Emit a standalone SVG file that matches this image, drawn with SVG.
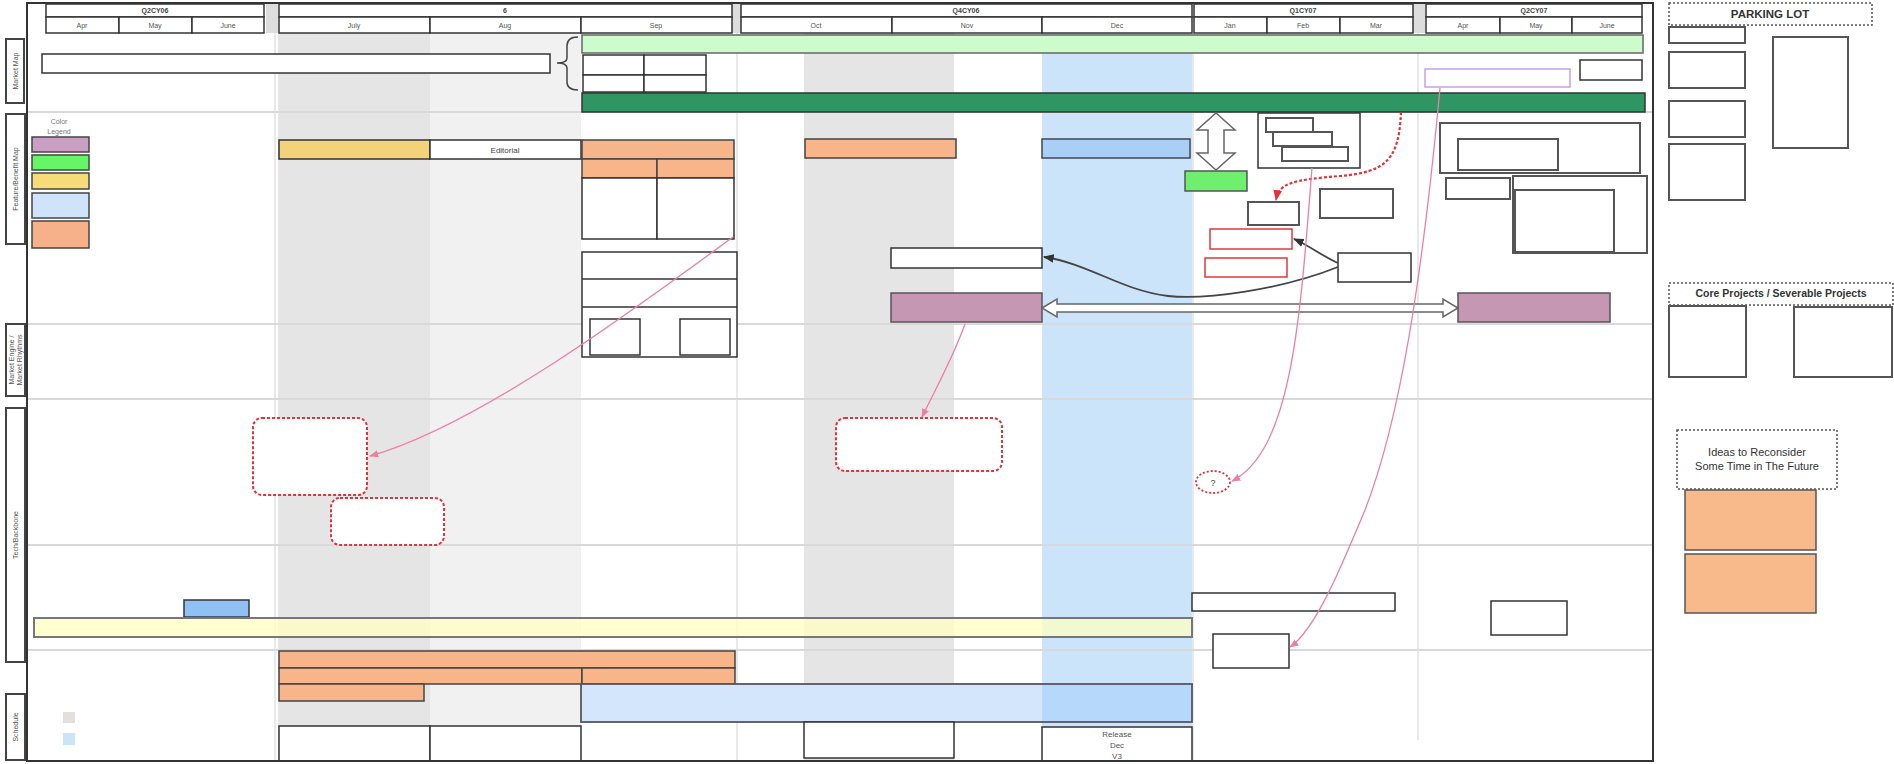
<svg xmlns="http://www.w3.org/2000/svg" width="1894" height="764" viewBox="0 0 1894 764">
<style>
text{font-family:"Liberation Sans",Arial,sans-serif;}
.t{font-size:7px;fill:#555;}
.q{font-size:7px;fill:#444;font-weight:bold;}
.hb{fill:#fff;stroke:#333;stroke-width:1.5;}
.box{fill:#fff;stroke:#333;stroke-width:1.5;}
.gbox{fill:#fff;stroke:#555;stroke-width:2;}
.lane{stroke:#d9d9d9;stroke-width:2;}
.vl{stroke:#e2e2e2;stroke-width:1.5;}
.lbl{fill:#fff;stroke:#444;stroke-width:2;}
.org{fill:#f7b589;stroke:#444;stroke-width:1.5;}
.mauve{fill:#c597b2;stroke:#555;stroke-width:1.5;}
.rd{fill:#fff;stroke:#e8303a;stroke-width:2;stroke-dasharray:3,2;}
.redbox{fill:#fff;stroke:#e03838;stroke-width:1.5;}
.pink{fill:none;stroke:#ee7fa3;stroke-width:1.3;}
.dark{fill:none;stroke:#444;stroke-width:1.8;}
.dash{fill:#fff;stroke:#555;stroke-width:1.5;stroke-dasharray:2,2;}
</style>
<defs>
<marker id="ap" viewBox="0 0 10 10" refX="9" refY="5" markerWidth="7" markerHeight="7" orient="auto"><path d="M0,1 L10,5 L0,9 z" fill="#ee7fa3"/></marker>
<marker id="ad" viewBox="0 0 10 10" refX="9" refY="5" markerWidth="6" markerHeight="6" orient="auto"><path d="M0,1 L10,5 L0,9 z" fill="#333"/></marker>
<marker id="ar" viewBox="0 0 10 10" refX="9" refY="5" markerWidth="5" markerHeight="5" orient="auto"><path d="M0,1 L10,5 L0,9 z" fill="#e8303a"/></marker>
</defs>
<rect x="0" y="0" width="1894" height="764" fill="#fff"/>
<!-- background bands -->
<g id="bands">
<rect x="278" y="33" width="152" height="728" fill="#e5e5e5"/>
<rect x="430" y="33" width="151" height="728" fill="#f1f1f1"/>
<rect x="804" y="33" width="150" height="728" fill="#e5e5e5"/>
<rect x="1042" y="33" width="150" height="728" fill="#cce4fa"/>
<line class="vl" x1="275" y1="33" x2="275" y2="761"/>
<line class="vl" x1="737" y1="33" x2="737" y2="761"/>
<line class="vl" x1="1193" y1="33" x2="1193" y2="761"/>
<line class="vl" x1="1418" y1="33" x2="1418" y2="740"/>
<line class="lane" x1="27" y1="112" x2="1653" y2="112"/>
<line class="lane" x1="27" y1="324" x2="1653" y2="324"/>
<line class="lane" x1="27" y1="399" x2="1653" y2="399"/>
<line class="lane" x1="27" y1="545" x2="1653" y2="545"/>
<line class="lane" x1="27" y1="650" x2="1653" y2="650"/>
</g>
<!-- header -->
<g id="header">
<rect x="266" y="4" width="12" height="29" fill="#ddd"/>
<rect x="732" y="4" width="9" height="29" fill="#ddd"/>
<rect x="1413" y="4" width="12" height="29" fill="#ddd"/>
<rect class="hb" x="46" y="4" width="218" height="13"/><rect class="hb" x="46" y="17" width="73" height="16"/><rect class="hb" x="119" y="17" width="73" height="16"/><rect class="hb" x="192" y="17" width="72" height="16"/>
<text class="q" x="155" y="13" text-anchor="middle">Q2CY06</text>
<text class="t" x="82" y="28" text-anchor="middle">Apr</text><text class="t" x="155" y="28" text-anchor="middle">May</text><text class="t" x="228" y="28" text-anchor="middle">June</text>
<rect class="hb" x="279" y="4" width="453" height="13"/><rect class="hb" x="279" y="17" width="151" height="16"/><rect class="hb" x="430" y="17" width="151" height="16"/><rect class="hb" x="581" y="17" width="151" height="16"/>
<text class="q" x="505" y="13" text-anchor="middle">6</text>
<text class="t" x="354" y="28" text-anchor="middle">July</text><text class="t" x="505" y="28" text-anchor="middle">Aug</text><text class="t" x="656" y="28" text-anchor="middle">Sep</text>
<rect class="hb" x="741" y="4" width="451" height="13"/><rect class="hb" x="741" y="17" width="151" height="16"/><rect class="hb" x="892" y="17" width="150" height="16"/><rect class="hb" x="1042" y="17" width="150" height="16"/>
<text class="q" x="966" y="13" text-anchor="middle">Q4CY06</text>
<text class="t" x="816" y="28" text-anchor="middle">Oct</text><text class="t" x="967" y="28" text-anchor="middle">Nov</text><text class="t" x="1117" y="28" text-anchor="middle">Dec</text>
<rect class="hb" x="1194" y="4" width="219" height="13"/><rect class="hb" x="1194" y="17" width="73" height="16"/><rect class="hb" x="1267" y="17" width="73" height="16"/><rect class="hb" x="1340" y="17" width="73" height="16"/>
<text class="q" x="1303" y="13" text-anchor="middle">Q1CY07</text>
<text class="t" x="1230" y="28" text-anchor="middle">Jan</text><text class="t" x="1303" y="28" text-anchor="middle">Feb</text><text class="t" x="1376" y="28" text-anchor="middle">Mar</text>
<rect class="hb" x="1426" y="4" width="216" height="13"/><rect class="hb" x="1426" y="17" width="74" height="16"/><rect class="hb" x="1500" y="17" width="72" height="16"/><rect class="hb" x="1572" y="17" width="70" height="16"/>
<text class="q" x="1534" y="13" text-anchor="middle">Q2CY07</text>
<text class="t" x="1463" y="28" text-anchor="middle">Apr</text><text class="t" x="1536" y="28" text-anchor="middle">May</text><text class="t" x="1607" y="28" text-anchor="middle">June</text>
</g>
<!-- lane labels -->
<g id="lanes">
<rect class="lbl" x="6" y="39" width="18" height="64"/>
<text class="t" transform="translate(17.5,71) rotate(-90)" text-anchor="middle">Market Map</text>
<rect class="lbl" x="6" y="114" width="19" height="130"/>
<text class="t" transform="translate(18,179) rotate(-90)" text-anchor="middle">Feature/Benefit Map</text>
<rect class="lbl" x="6" y="324" width="19" height="72"/>
<text class="t" transform="translate(14,360) rotate(-90)" text-anchor="middle">Market Engine /</text>
<text class="t" transform="translate(22,360) rotate(-90)" text-anchor="middle">Market Rhythms</text>
<rect class="lbl" x="6" y="408" width="19" height="254"/>
<text class="t" transform="translate(18,535) rotate(-90)" text-anchor="middle">Tech/Backbone</text>
<rect class="lbl" x="6" y="694" width="19" height="66"/>
<text class="t" transform="translate(18,727) rotate(-90)" text-anchor="middle">Schedule</text>
</g>
<!-- market map -->
<g id="marketmap">
<rect class="box" x="42" y="54" width="508" height="19"/>
<path d="M578,37 Q567,37 567,46 L567,58 Q567,63 557,63 Q567,63 567,68 L567,82 Q567,90 578,90" fill="none" stroke="#444" stroke-width="1.5"/>
<rect x="582" y="35" width="1061" height="18" fill="#ccfccc" stroke="#666" stroke-width="1.5"/>
<rect class="box" x="583" y="55" width="61" height="20"/><rect class="box" x="644" y="55" width="62" height="20"/>
<rect class="box" x="583" y="75" width="61" height="17"/><rect class="box" x="644" y="75" width="62" height="17"/>
<rect x="582" y="93" width="1063" height="19" fill="#2f9562" stroke="#333" stroke-width="1.5"/>
<rect x="1425" y="69" width="145" height="18" fill="#fff" stroke="#c9a0e8" stroke-width="1.5"/>
<rect class="box" x="1580" y="60" width="62" height="20"/>
</g>
<!-- legend -->
<g id="legend">
<text class="t" x="59" y="124" text-anchor="middle" style="fill:#777">Color</text>
<text class="t" x="59" y="134" text-anchor="middle" style="fill:#777">Legend</text>
<rect x="32" y="137" width="57" height="15" fill="#c9a0c4" stroke="#444" stroke-width="1.5"/>
<rect x="32" y="155" width="57" height="15" fill="#66f566" stroke="#444" stroke-width="1.5"/>
<rect x="32" y="173" width="57" height="16" fill="#f5dc78" stroke="#444" stroke-width="1.5"/>
<rect x="32" y="193" width="57" height="25" fill="#cfe3fa" stroke="#444" stroke-width="1.5"/>
<rect x="32" y="221" width="57" height="27" fill="#f6b18a" stroke="#444" stroke-width="1.5"/>
</g>
<!-- feature/benefit map -->
<g id="features">
<rect x="279" y="140" width="151" height="19" fill="#f3d27a" stroke="#333" stroke-width="1.5"/>
<rect class="box" x="430" y="140" width="151" height="19"/>
<text x="505" y="153" text-anchor="middle" style="font-size:8px;fill:#444">Editorial</text>
<rect class="org" x="582" y="140" width="152" height="19"/>
<rect class="org" x="582" y="159" width="75" height="19"/><rect class="org" x="657" y="159" width="77" height="19"/>
<rect class="box" x="582" y="178" width="75" height="61"/><rect class="box" x="657" y="178" width="77" height="61"/>
<rect class="box" x="582" y="252" width="155" height="105"/>
<line x1="582" y1="279" x2="737" y2="279" stroke="#333" stroke-width="1.5"/>
<line x1="582" y1="307" x2="737" y2="307" stroke="#333" stroke-width="1.5"/>
<rect class="box" x="590" y="319" width="50" height="36"/><rect class="box" x="680" y="319" width="50" height="36"/>
<rect class="org" x="805" y="139" width="151" height="19"/>
<rect x="1042" y="139" width="148" height="19" fill="#a9cff5" stroke="#445" stroke-width="1.5"/>
<polygon points="1216,113 1235,130 1224,130 1224,153 1235,153 1216,170 1197,153 1208,153 1208,130 1197,130" fill="#fff" stroke="#666" stroke-width="1.5"/>
<rect x="1185" y="171" width="62" height="20" fill="#6ef06e" stroke="#555" stroke-width="1.5"/>
<rect class="box" x="1258" y="113" width="102" height="55"/>
<rect class="gbox" x="1266" y="118" width="47" height="14"/>
<rect class="gbox" x="1273" y="132" width="59" height="14"/>
<rect class="gbox" x="1282" y="147" width="66" height="14"/>
<rect class="gbox" x="1248" y="202" width="51" height="23"/>
<rect class="gbox" x="1320" y="189" width="73" height="29"/>
<rect class="redbox" x="1210" y="229" width="82" height="20"/>
<rect class="redbox" x="1205" y="258" width="82" height="19"/>
<rect class="box" x="1338" y="253" width="73" height="29"/>
<rect class="box" x="891" y="248" width="151" height="20"/>
<rect class="mauve" x="891" y="293" width="151" height="29"/>
<polygon points="1042,308 1057,299 1057,304 1443,304 1443,299 1458,308 1443,317 1443,312 1057,312 1057,317" fill="#fff" stroke="#666" stroke-width="1.5"/>
<rect class="mauve" x="1458" y="293" width="152" height="29"/>
<rect class="gbox" x="1440" y="123" width="200" height="50"/>
<rect class="gbox" x="1458" y="139" width="100" height="31"/>
<rect class="gbox" x="1446" y="178" width="64" height="21"/>
<rect class="gbox" x="1513" y="176" width="134" height="77"/>
<rect class="gbox" x="1515" y="190" width="99" height="62"/>
</g>
<!-- tech/backbone -->
<g id="tech">
<rect class="rd" x="253" y="418" width="114" height="77" rx="9"/>
<rect class="rd" x="331" y="498" width="113" height="47" rx="9"/>
<rect class="rd" x="836" y="418" width="166" height="53" rx="9"/>
<ellipse cx="1213" cy="482" rx="17" ry="11" fill="#fff" stroke="#e8303a" stroke-width="1.8" stroke-dasharray="2,2"/>
<text x="1213" y="486" text-anchor="middle" style="font-size:9px;fill:#444">?</text>
<rect x="184" y="600" width="65" height="17" fill="#8fc2f2" stroke="#334" stroke-width="1.5"/>
<rect x="34" y="618" width="1158" height="19" fill="#ffffc0" fill-opacity="0.75" stroke="#777" stroke-width="2"/>
<rect class="box" x="1192" y="593" width="203" height="18"/>
<rect class="box" x="1491" y="601" width="76" height="34"/>
<rect class="box" x="1213" y="634" width="76" height="34"/>
</g>
<!-- schedule -->
<g id="schedule">
<rect class="org" x="279" y="651" width="456" height="17"/>
<rect class="org" x="279" y="668" width="303" height="16"/>
<rect class="org" x="582" y="668" width="153" height="16"/>
<rect class="org" x="279" y="684" width="145" height="17"/>
<rect x="581" y="684" width="611" height="38" fill="#d3e6fb" stroke="#556" stroke-width="1.8"/>
<rect x="1042" y="685" width="149" height="36" fill="#b5d8fb"/>
<rect x="63" y="712" width="12" height="11" fill="#e2e0dc"/>
<rect x="63" y="733" width="12" height="12" fill="#cce4fa"/>
<rect class="box" x="279" y="726" width="151" height="35"/>
<rect class="box" x="430" y="726" width="151" height="35"/>
<rect class="box" x="804" y="722" width="150" height="36"/>
<rect class="box" x="1042" y="727" width="150" height="34"/>
<text class="t" x="1117" y="737" text-anchor="middle" style="font-size:8px">Release</text>
<text class="t" x="1117" y="748" text-anchor="middle" style="font-size:8px">Dec</text>
<text class="t" x="1117" y="759" text-anchor="middle" style="font-size:8px">V3</text>
</g>
<!-- connectors -->
<g id="connectors">
<path class="dark" d="M1338,263 C1322,256 1310,246 1294,239" marker-end="url(#ad)"/>
<path class="dark" d="M1338,267 C1280,290 1205,300 1168,296 C1120,290 1090,264 1044,257" marker-end="url(#ad)"/>
<path d="M1401,112 C1399,160 1386,172 1340,176 C1292,180 1279,183 1276,200" fill="none" stroke="#e8303a" stroke-width="2.2" stroke-dasharray="3,2" marker-end="url(#ar)"/>
<path class="pink" d="M733,237 C640,305 480,425 370,456" marker-end="url(#ap)"/>
<path class="pink" d="M965,324 C952,360 935,390 922,417" marker-end="url(#ap)"/>
<path class="pink" d="M1312,168 C1300,320 1292,450 1232,481" marker-end="url(#ap)"/>
<path class="pink" d="M1440,88 C1422,280 1400,420 1365,510 C1340,570 1315,630 1290,647" marker-end="url(#ap)"/>
</g>
<!-- frame -->
<rect x="27" y="3" width="1626" height="758" fill="none" stroke="#333" stroke-width="2"/>
<!-- right panel -->
<g id="parking">
<rect class="dash" x="1669" y="3" width="203" height="22"/>
<text x="1770" y="18" text-anchor="middle" style="font-size:11.5px;font-weight:bold;fill:#333">PARKING LOT</text>
<rect class="gbox" x="1669" y="27" width="76" height="16"/>
<rect class="gbox" x="1669" y="52" width="76" height="36"/>
<rect class="gbox" x="1669" y="101" width="76" height="36"/>
<rect class="gbox" x="1669" y="144" width="76" height="56"/>
<rect class="gbox" x="1773" y="37" width="75" height="111"/>
</g>
<g id="core">
<rect class="dash" x="1669" y="283" width="224" height="22"/>
<text x="1781" y="297" text-anchor="middle" style="font-size:10.5px;font-weight:bold;fill:#333">Core Projects / Severable Projects</text>
<rect class="gbox" x="1669" y="306" width="77" height="71"/>
<rect class="gbox" x="1794" y="307" width="98" height="70"/>
</g>
<g id="ideas">
<rect class="dash" x="1677" y="430" width="160" height="59"/>
<text x="1757" y="456" text-anchor="middle" style="font-size:11px;fill:#333">Ideas to Reconsider</text>
<text x="1757" y="470" text-anchor="middle" style="font-size:11px;fill:#333">Some Time in The Future</text>
<rect x="1685" y="490" width="131" height="60" fill="#f8b98b" stroke="#555" stroke-width="1.5"/>
<rect x="1685" y="554" width="131" height="59" fill="#f8b98b" stroke="#555" stroke-width="1.5"/>
</g>
</svg>
